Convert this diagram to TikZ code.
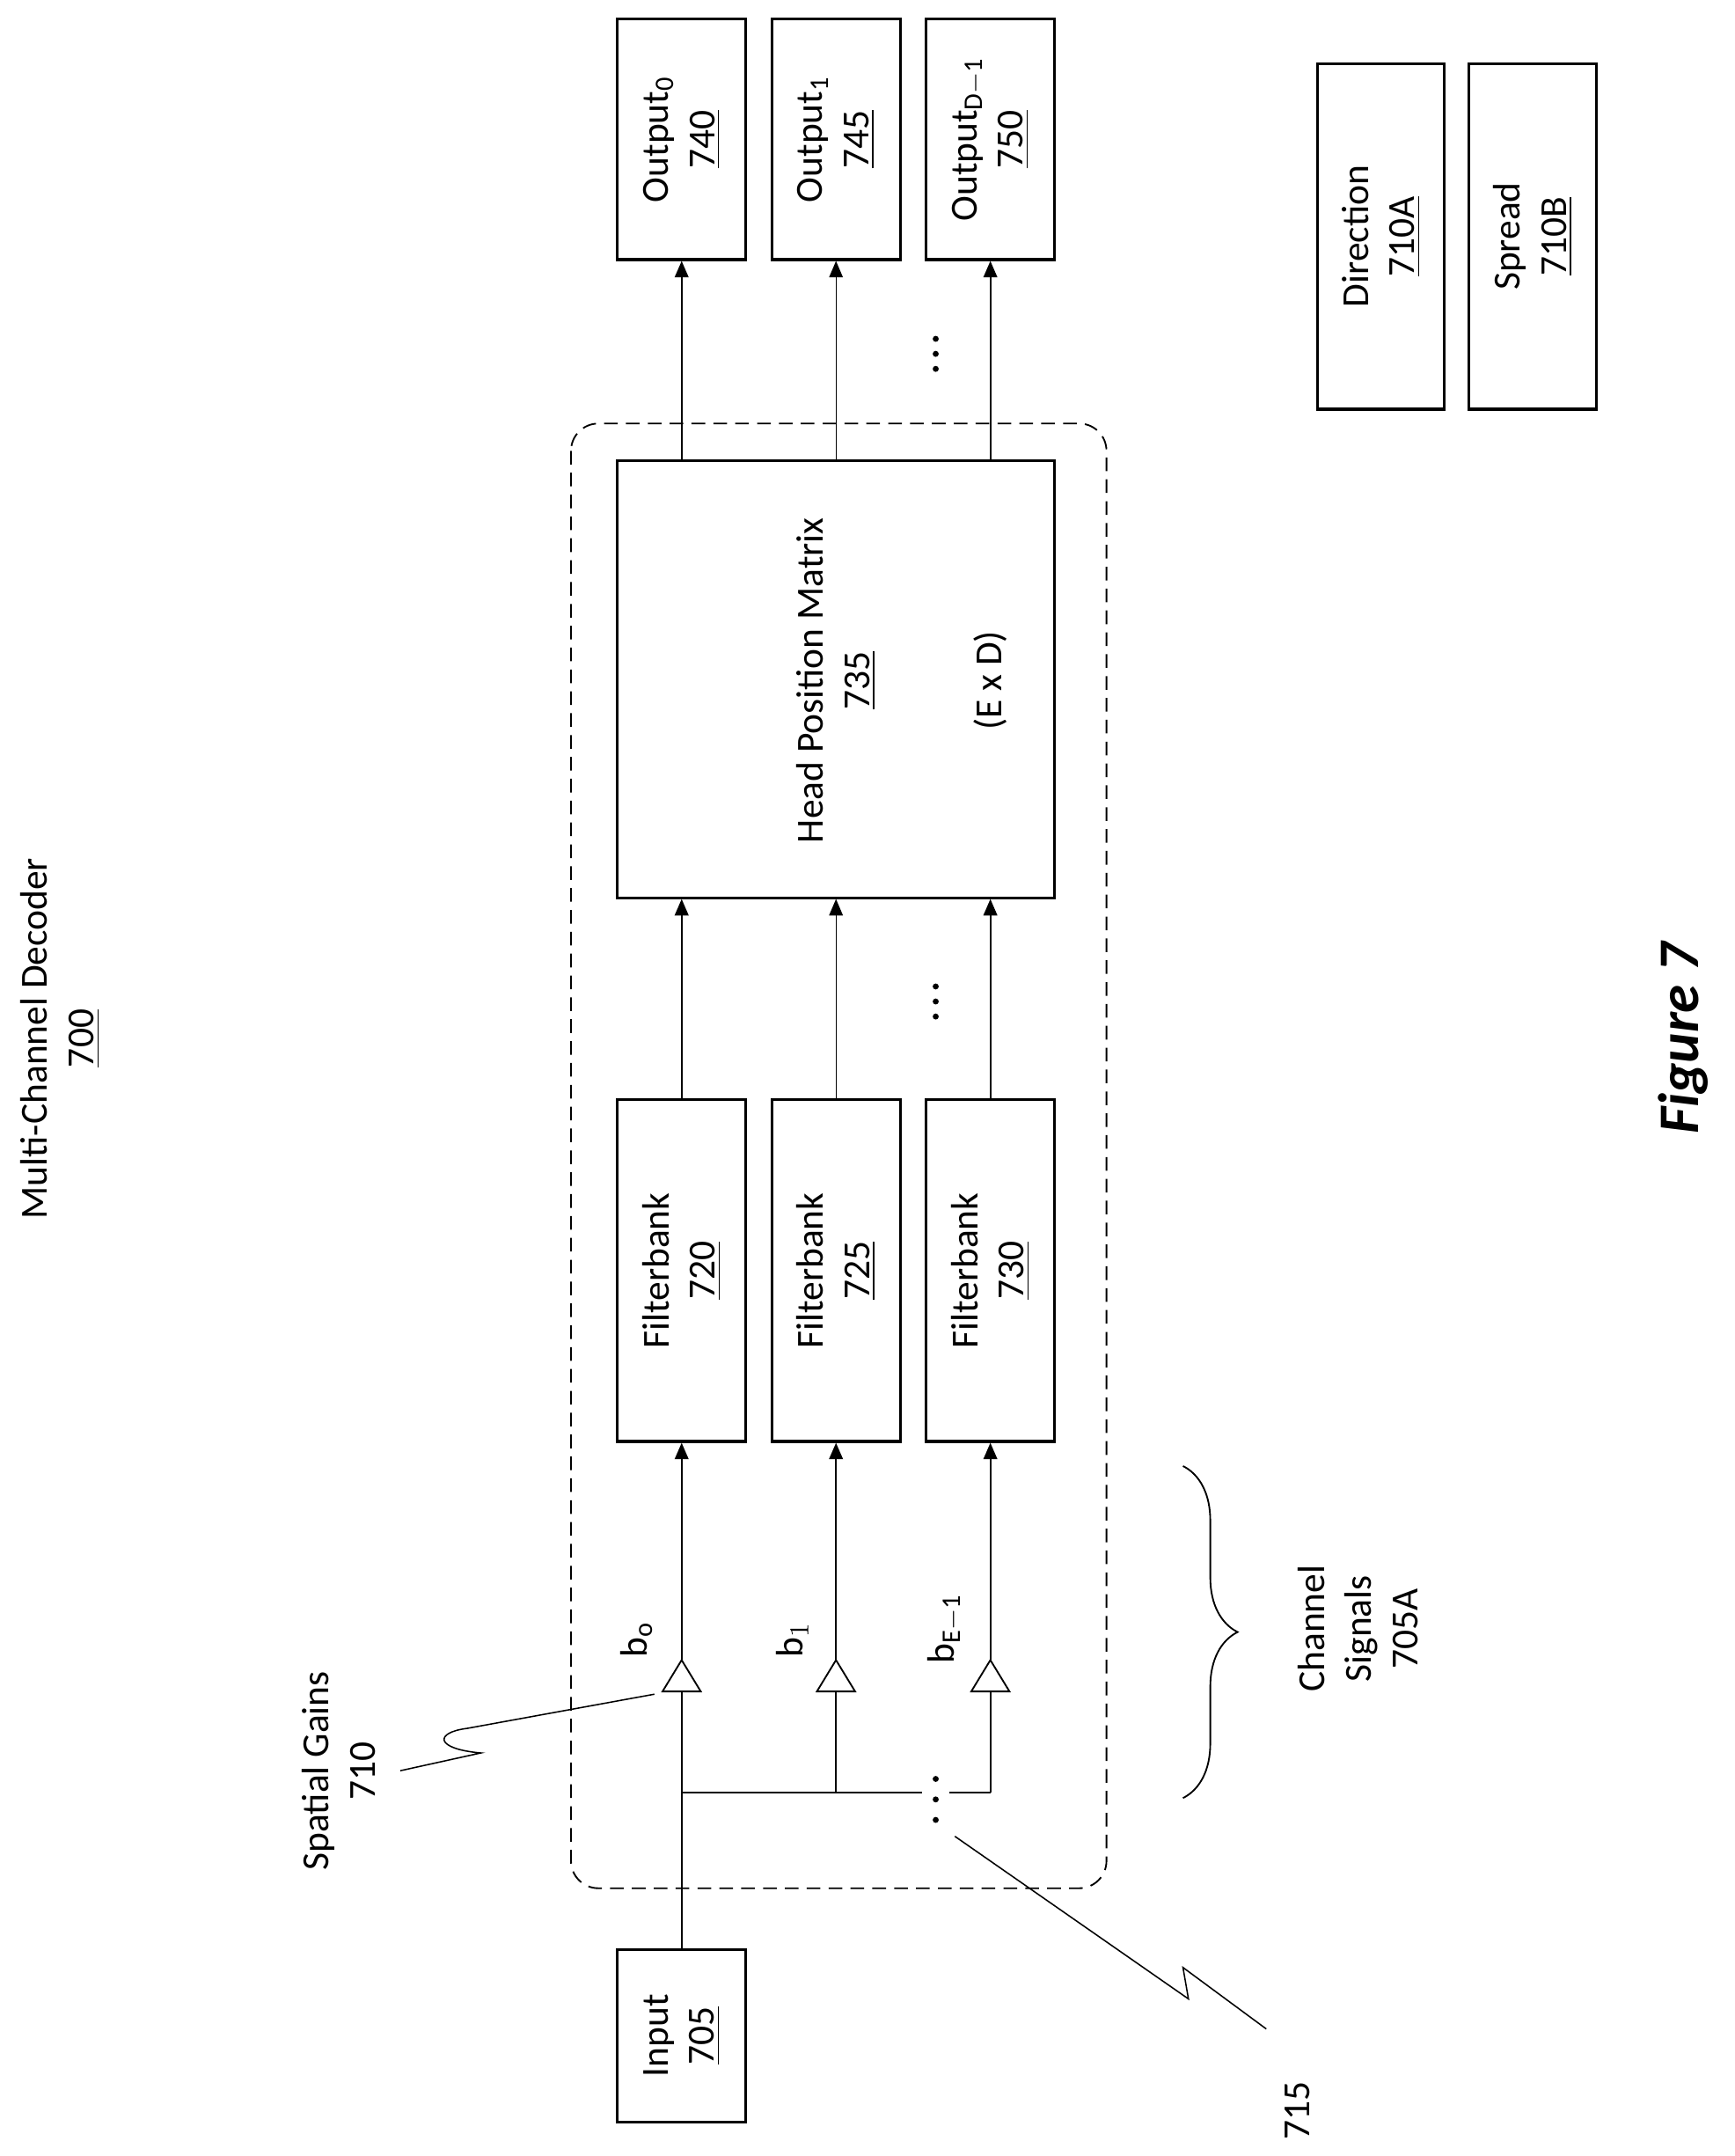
\documentclass[tikz,border=0pt]{standalone}
\usepackage{fontspec}
\setmainfont{Carlito}
\usetikzlibrary{arrows.meta,decorations.pathreplacing}
\begin{document}
\begin{tikzpicture}[x=0.5pt,y=-0.5pt,
  box/.style={draw,line width=1pt,inner sep=0pt},
  lbl/.style={rotate=90,align=center,font=\fontsize{14}{17}\selectfont,inner sep=0pt},
  con/.style={line width=0.7pt},
  arr/.style={con,-{Triangle[length=6pt,width=5pt]}},
  dotsn/.style={circle,fill,inner sep=0pt,minimum size=2.2pt}]
\useasboundingbox (0,0) rectangle (1270,1578);
% title
\node[lbl] (title) at (44,760) {Multi-Channel Decoder\\\underline{700}};
% outputs
\foreach \n/\x/\s/\num in {o0/499/0/740,o1/612/1/745,o2/725/{D-1}/750}{
  \node[box,minimum width=47pt,minimum height=88pt] (\n) at (\x,102) {};
  \node[lbl] (\n t) at (\x,102) {Output$_{\mathrm{\s}}$\\\underline{\num}};
}
% head position matrix
\node[box,minimum width=160pt,minimum height=160pt] (hpm) at (612,497) {};
\node[lbl] (hpmt) at (612,498) {Head Position Matrix\\\underline{735}};
\node[lbl] (hpme) at (725,498) {(E x D)};
% filterbanks
\foreach \n/\x/\num in {f0/499/720,f1/612/725,f2/725/730}{
  \node[box,minimum width=47pt,minimum height=125pt] (\n) at (\x,930) {};
  \node[lbl] (\n t) at (\x,930) {Filterbank\\\underline{\num}};
}
% input
\node[box,minimum width=47pt,minimum height=63pt] (in) at (499,1490) {};
\node[lbl] (int) at (499,1490) {Input\\\underline{705}};
% direction / spread
\node[box,minimum width=46.5pt,minimum height=126.5pt] (dir) at (1011,173) {};
\node[lbl] (dirt) at (1011,173) {Direction\\\underline{710A}};
\node[box,minimum width=46.5pt,minimum height=126.5pt] (spr) at (1122,173) {};
\node[lbl] (sprt) at (1122,173) {Spread\\\underline{710B}};
% dashed container
\draw[dashed,line width=0.6pt,rounded corners=10pt,dash pattern=on 5pt off 3pt] (418,310) rectangle (810,1382);
% arrows hpm -> outputs
\draw[arr] (hpm.north west -| o0) -- (o0.south);
\draw[arr,line width=0.4pt] (hpm.north -| o1) -- (o1.south);
\draw[arr] (hpm.north east -| o2) -- (o2.south);
% filterbanks -> hpm
\draw[arr] (f0.north) -- (hpm.south west -| f0);
\draw[arr,line width=0.4pt] (f1.north) -- (hpm.south -| f1);
\draw[arr] (f2.north) -- (hpm.south east -| f2);
% dots
\foreach \y [count=\i] in {248,259,270}{\node[dotsn] (da\i) at (685,\y) {};}
\foreach \y [count=\i] in {722,733,744}{\node[dotsn] (db\i) at (685,\y) {};}
\foreach \y [count=\i] in {1302,1317,1332}{\node[dotsn] (dc\i) at (685,\y) {};}
% gains
\foreach \n/\x in {g0/499,g1/612,g2/725}{
  \coordinate (\n a) at (\x,1215);
  \coordinate (\n b) at (\x,1238);
  \draw[line width=0.6pt] (\x-14,1238) -- (\n a) -- (\x+14,1238) -- cycle;
  \coordinate (\n bus) at (\x,1312);
}
\draw[arr] (g0a) -- (f0.south);
\draw[arr] (g1a) -- (f1.south);
\draw[arr] (g2a) -- (f2.south);
\draw[con] (in.north) -- (g0b);
\draw[con] (g1bus) -- (g1b);
\draw[con] (g2bus) -- (g2b);
\coordinate (busm) at (675,1312);
\coordinate (busr) at (695,1312);
\draw[con] (g0bus) -- (busm);
\draw[con] (busr) -- (g2bus);
\node[rotate=90,font=\fontsize{14}{17}\selectfont,inner sep=0pt] (b0) at (466,1200) {b$_{\mathrm o}$};
\node[rotate=90,font=\fontsize{14}{17}\selectfont,inner sep=0pt] (b1) at (580,1200) {b$_{1}$};
\node[rotate=90,font=\fontsize{14}{17}\selectfont,inner sep=0pt] (b2) at (692,1192) {b$_{\mathrm{E-1}}$};
% spatial gains label
\node[lbl] (sg) at (248,1296) {Spatial Gains\\710};
\coordinate (sgA) at (293,1296);
\coordinate (sgB) at (479,1240);
\draw[con,line width=0.5pt] (sgA) -- (352,1283) .. controls (318,1280) and (318,1268) .. (342,1265) -- (sgB);
% 715
\node[lbl] (l715) at (950,1545) {715};
\coordinate (lA) at (699,1344);
\coordinate (lB) at (927,1485);
\draw[con,line width=0.5pt] (lA) -- (870,1463) -- (866,1440) -- (lB);
% brace
\coordinate (brA) at (866,1073);
\coordinate (brB) at (866,1316);
\draw[line width=0.6pt,decorate,decoration={brace,amplitude=20pt}] (brA) -- (brB);
\node[lbl] (cs) at (994,1192) {Channel\\Signals\\705A};
% figure
\node[rotate=90,inner sep=0pt,font=\fontsize{21}{25}\selectfont\bfseries\itshape] (fig) at (1232,760) {Figure 7};
\end{tikzpicture}
\end{document}
